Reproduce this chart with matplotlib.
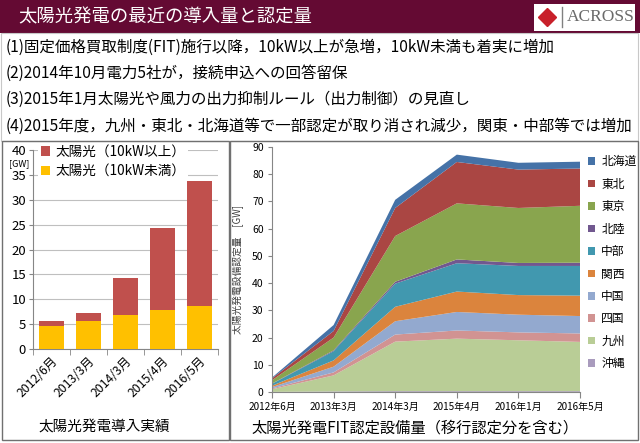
import numpy as np
import matplotlib
matplotlib.use('Agg')
import matplotlib.pyplot as plt
from matplotlib.patches import Rectangle

plt.rcParams['font.family'] = ['Noto Sans CJK JP', 'DejaVu Sans']

# --- data -----------------------------------------------------------------
title = '太陽光発電の最近の導入量と認定量'
notes = [
    '(1)固定価格買取制度(FIT)施行以降，10kW以上が急増，10kW未満も着実に増加',
    '(2)2014年10月電力5社が，接続申込への回答留保',
    '(3)2015年1月太陽光や風力の出力抑制ルール（出力制御）の見直し',
    '(4)2015年度，九州・東北・北海道等で一部認定が取り消され減少，関東・中部等では増加',
]

bar_cats = ['2012/6月', '2013/3月', '2014/3月', '2015/4月', '2016/5月']
under_10kw = [4.7, 5.6, 6.9, 7.9, 8.7]
over_10kw = [0.9, 1.6, 7.4, 16.4, 25.1]

area_cats = ['2012年6月', '2013年3月', '2014年3月', '2015年4月', '2016年1月', '2016年5月']
# bottom -> top
regions = ['沖縄', '九州', '四国', '中国', '関西', '中部', '北陸', '東京', '東北', '北海道']
okinawa = [0.05, 0.2, 0.3, 0.3, 0.3, 0.3]
kyushu = [0.95, 5.9, 18.2, 19.3, 18.7, 18.1]
shikoku = [0.3, 1.1, 2.6, 3.0, 2.9, 3.1]
chugoku = [0.5, 2.1, 4.9, 6.8, 6.5, 6.4]
kansai = [0.5, 2.3, 5.3, 7.5, 7.2, 7.5]
chubu = [0.7, 3.4, 8.5, 10.4, 10.7, 10.9]
hokuriku = [0.1, 0.3, 0.7, 1.4, 1.1, 1.2]
tokyo = [1.2, 4.7, 16.8, 20.6, 20.2, 20.9]
tohoku = [0.7, 2.4, 10.3, 15.2, 14.1, 13.7]
hokkaido = [0.3, 2.2, 3.0, 2.7, 2.5, 2.5]
area_data = [okinawa, kyushu, shikoku, chugoku, kansai, chubu, hokuriku, tokyo, tohoku, hokkaido]
area_colors = ['#A99BBD', '#B9CD96', '#D19392', '#93A9CF', '#DB843D',
               '#4198AF', '#71588F', '#89A54E', '#AA4643', '#4572A7']

W, H = 640, 443
fig = plt.figure(figsize=(6.4, 4.43), dpi=100)
fig.patch.set_facecolor('white')


def fx(px):
    return px / W


def fy(py):
    return 1 - py / H


# title bar
fig.add_artist(Rectangle((0, fy(33)), 1, 33 / H, transform=fig.transFigure,
                         facecolor='#640A33', edgecolor='none'))
fig.text(fx(18), fy(17), title, color='white', fontsize=13.2, va='center', ha='left')

# ACROSS logo
fig.add_artist(Rectangle((fx(534), fy(31)), 101 / W, 27 / H, transform=fig.transFigure,
                         facecolor='white', edgecolor='none'))
fig.lines.append(plt.Line2D([fx(547)], [fy(17)], marker='D', markersize=9,
                            color='#C8202A', transform=fig.transFigure))
fig.lines.append(plt.Line2D([fx(562), fx(562)], [fy(7), fy(27)], color='#808080',
                            lw=1, transform=fig.transFigure))
fig.text(fx(567), fy(17), 'ACROSS', family='Liberation Serif', color='#6A6A6A',
         fontsize=12.5, va='center', ha='left')

# notes
for i, line in enumerate(notes):
    fig.text(fx(6), fy(47 + i * 26.3), line, fontsize=11.2, va='center', ha='left')

# panel boxes
fig.add_artist(Rectangle((fx(1), fy(141)), 637 / W, 108 / H, transform=fig.transFigure,
                         facecolor='none', edgecolor='#C8C8C8', lw=0.8))
fig.add_artist(Rectangle((fx(2), fy(440)), 227 / W, 299 / H, transform=fig.transFigure,
                         facecolor='none', edgecolor='#707070', lw=1.0))
fig.add_artist(Rectangle((fx(230), fy(440)), 408 / W, 299 / H, transform=fig.transFigure,
                         facecolor='none', edgecolor='#707070', lw=1.0))

# --- left: stacked bars ----------------------------------------------------
ax1 = fig.add_axes([fx(33), fy(349), fx(218) - fx(33), fy(150) - fy(349)])
x = np.arange(len(bar_cats))
ax1.bar(x, under_10kw, width=0.68, color='#FFC000', label='太陽光（10kW未満）', zorder=3)
ax1.bar(x, over_10kw, width=0.68, bottom=under_10kw, color='#C0504D',
        label='太陽光（10kW以上）', zorder=3)
ax1.set_ylim(0, 40)
ax1.set_xlim(-0.5, len(bar_cats) - 0.5)
ax1.set_yticks(range(0, 41, 5))
ax1.yaxis.grid(True, color='#BFBFBF', lw=0.8, zorder=0)
ax1.set_xticks(x)
ax1.set_xticklabels(bar_cats, rotation=45, ha='right', rotation_mode='anchor', fontsize=8.8)
ax1.set_xticks(np.arange(-0.5, len(bar_cats), 1), minor=True)
ax1.tick_params(axis='x', which='major', length=0, pad=4)
ax1.tick_params(axis='x', which='minor', length=4, color='#868686')
ax1.tick_params(axis='y', labelsize=9.5, length=3, color='#868686', pad=2)
for s in ['top', 'right']:
    ax1.spines[s].set_visible(False)
ax1.spines['left'].set_color('#868686')
ax1.spines['bottom'].set_color('#868686')
h, l = ax1.get_legend_handles_labels()
leg = ax1.legend(h[::-1], l[::-1], loc='upper left', bbox_to_anchor=(-0.01, 1.075),
                 frameon=True, fontsize=9.8, handlelength=0.7, handleheight=0.7,
                 handletextpad=0.4, borderpad=0.2, labelspacing=0.4)
leg.get_frame().set_facecolor('white')
leg.get_frame().set_edgecolor('none')
leg.get_frame().set_alpha(1)
fig.text(fx(19), fy(164), '[GW]', fontsize=6.5, va='center', ha='center')
fig.text(fx(38), fy(428), '太陽光発電導入実績', fontsize=10.5, va='center', ha='left')

# --- right: stacked area ---------------------------------------------------
ax2 = fig.add_axes([fx(272), fy(392), fx(580) - fx(272), fy(147) - fy(392)])
xa = np.arange(len(area_cats))
ax2.stackplot(xa, *area_data, colors=area_colors, labels=regions, lw=0)
ax2.set_xlim(0, len(area_cats) - 1)
ax2.set_ylim(0, 90)
ax2.set_yticks(range(0, 91, 10))
ax2.set_xticks(xa)
ax2.set_xticklabels(area_cats, fontsize=7.2)
ax2.tick_params(axis='y', labelsize=7.5, length=3, color='#868686', pad=3)
ax2.tick_params(axis='x', length=4, color='#868686', pad=3)
for s in ['top', 'right']:
    ax2.spines[s].set_visible(False)
ax2.spines['left'].set_color('#868686')
ax2.spines['bottom'].set_color('#868686')
ax2.set_ylabel('太陽光発電設備認定量　[GW]', fontsize=7, color='#404040', labelpad=6)
h, l = ax2.get_legend_handles_labels()
ax2.legend(h[::-1], l[::-1], loc='upper left', bbox_to_anchor=(1.0, 1.0),
           frameon=False, fontsize=8.5, handlelength=0.6, handleheight=0.6,
           handletextpad=0.5, labelspacing=0.8, borderaxespad=0.3)
fig.text(fx(415), fy(428), '太陽光発電FIT認定設備量（移行認定分を含む）', fontsize=11,
         va='center', ha='center')

fig.savefig('out.png', dpi=100)
